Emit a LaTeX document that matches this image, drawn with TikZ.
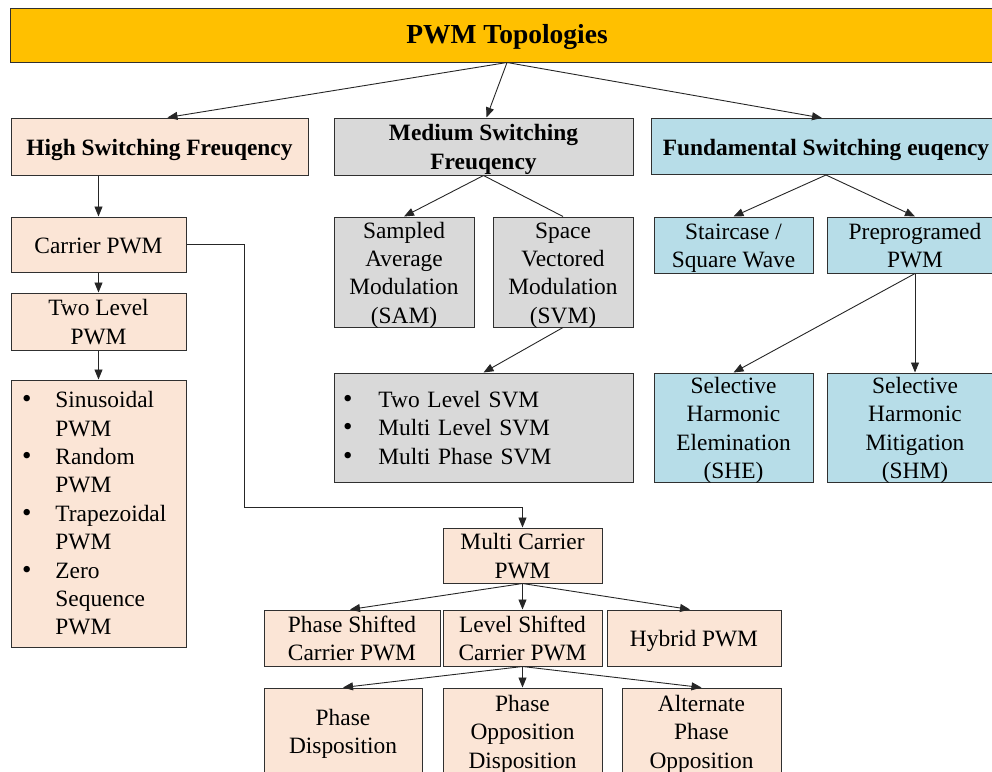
\documentclass[tikz,border=0pt]{standalone}
\usepackage{fontspec}
\setmainfont{Liberation Serif}
\usetikzlibrary{arrows.meta}
\definecolor{gold}{HTML}{FFC000}
\definecolor{peach}{HTML}{FBE5D6}
\definecolor{greybox}{HTML}{D9D9D9}
\definecolor{aqua}{HTML}{B7DDE8}
\definecolor{edge}{HTML}{303030}
\newcommand{\boxfont}{\fontsize{23.4}{28.4}\selectfont}
\newcommand{\itm}{\scalebox{1.15}{\textbullet}}
% uniform line boxes: first-line height and last-line depth
\newcommand{\topst}{\rule{0pt}{22.8pt}}
\newcommand{\botst}{\rule[-5.6pt]{0pt}{5.6pt}}
% lower some content without changing its extent
\newcommand{\lowered}[2]{\raisebox{-#1}[\height][\depth]{#2}}
\tikzset{
  % negative vertical inner sep lets the line boxes touch the frame
  % without enlarging it
  blk/.style={draw=edge, line width=1pt, inner xsep=0pt, inner ysep=-3pt,
    align=center, font=\boxfont, text=black,
    execute at begin node={\topst}, execute at end node={\botst}},
  hot/.style={blk, fill=peach},
  mid/.style={blk, fill=greybox},
  low/.style={blk, fill=aqua},
  link/.style={line width=0.9pt, draw=black!85},
  arr/.style={link, -{Triangle[length=10pt,width=8pt]}},
}
\begin{document}
\begin{tikzpicture}[x=1pt, y=-1pt]
\useasboundingbox (0,0) rectangle (992,771);
\clip (0,0) rectangle (992,771);

% root
\node[draw=edge, line width=1pt, inner sep=0pt, fill=gold,
  minimum width=994, minimum height=54,
  font=\fontsize{27.5}{32}\selectfont\bfseries] (root) at (507,35)
  {\lowered{1.5pt}{PWM Topologies}};

% second level
\node[hot, minimum width=297, minimum height=57, font=\boxfont\bfseries]
  (high) at (159.5,146.5) {High Switching Freuqency};
\node[mid, minimum width=299, minimum height=57, font=\boxfont\bfseries]
  (med) at (483.5,146.5) {\topst Medium Switching\\Freuqency\botst};
\node[low, minimum width=350, minimum height=56, font=\boxfont\bfseries]
  (fund) at (826,146.5) {Fundamental Switching euqency};

% high switching branch
\node[hot, minimum width=175, minimum height=55] (carrier) at (98.5,244.5) {Carrier PWM};
\node[hot, minimum width=175, minimum height=57] (twolvl) at (98.5,321.5)
  {\topst Two Level\\PWM\botst};
\node[hot, minimum width=175, minimum height=267, text width=175pt, align=left]
  (hlist) at (98.5,513.5) {\lowered{2.2pt}{%
  \begin{tabular}{@{\hspace{11pt}}l@{\hspace{24pt}}l@{}}
  \itm & Sinusoidal\\ & PWM\\
  \itm & Random\\ & PWM\\
  \itm & Trapezoidal\\ & PWM\\
  \itm & Zero\\ & Sequence\\ & PWM
  \end{tabular}}};

% medium switching branch
\node[mid, minimum width=140, minimum height=110] (sam) at (404,272)
  {\topst Sampled\\Average\\Modulation\\(SAM)\botst};
\node[mid, minimum width=140, minimum height=110] (svm) at (563,272)
  {\topst Space\\Vectored\\Modulation\\(SVM)\botst};
\node[mid, minimum width=299, minimum height=109, text width=299pt, align=left]
  (svmlist) at (483.5,427.5) {\lowered{2.5pt}{%
  \begin{tabular}{@{\hspace{9pt}}l@{\hspace{26pt}}l@{}}
  \itm & Two Level SVM\\
  \itm & Multi Level SVM\\
  \itm & Multi Phase SVM
  \end{tabular}}};

% fundamental switching branch
\node[low, minimum width=159, minimum height=56] (stair) at (733.5,245)
  {\topst Staircase /\\Square Wave\botst};
\node[low, minimum width=176, minimum height=56] (preprog) at (915,245)
  {\topst Preprogramed\\PWM\botst};
\node[low, minimum width=159, minimum height=109] (she) at (733.5,427.5)
  {\topst Selective\\Harmonic\\Elemination\\(SHE)\botst};
\node[low, minimum width=176, minimum height=109] (shm) at (915,427.5)
  {\topst Selective\\Harmonic\\Mitigation\\(SHM)\botst};

% multi carrier branch
\node[hot, minimum width=159, minimum height=55] (multi) at (522.5,555.5)
  {\topst Multi Carrier\\PWM\botst};
\node[hot, minimum width=176, minimum height=56] (psc) at (352,638)
  {\topst Phase Shifted\\Carrier PWM\botst};
\node[hot, minimum width=159, minimum height=56] (lsc) at (522.5,638)
  {\topst Level Shifted\\Carrier PWM\botst};
\node[hot, minimum width=174, minimum height=56] (hyb) at (694,638) {Hybrid PWM};
\node[hot, minimum width=158, minimum height=86] (pd) at (343,731)
  {\topst Phase\\Disposition\botst};
\node[hot, minimum width=159, minimum height=86] (pod) at (522.5,731)
  {\topst Phase\\Opposition\\Disposition\botst};
\node[hot, minimum width=159, minimum height=86] (apo) at (701.5,731)
  {\topst Alternate\\Phase\\Opposition\botst};

% connectors
\draw[arr] (root.south) -- ([xshift=8pt]high.north);
\draw[arr] (root.south) -- ([xshift=3pt]med.north);
\draw[arr] (root.south) -- ([xshift=-4pt]fund.north);

\draw[arr] (high.south -| carrier.north) -- (carrier.north);
\draw[arr] (carrier.south) -- (twolvl.north);
\draw[arr] (twolvl.south) -- (hlist.north);

\draw[arr] (med.south) -- (sam.north);
\draw[link] (med.south) -- (svm.north);
\draw[arr] (svm.south) -- (svmlist.north);

\draw[arr] (fund.south) -- (stair.north);
\draw[arr] (fund.south) -- (preprog.north);
\draw[arr] (preprog.south) -- (she.north);
\draw[arr] (preprog.south) -- (shm.north);

\coordinate (bend) at (244,507.5);
\draw[arr] (carrier.east) -| (bend) -| (multi.north);

\draw[arr] (multi.south) -- ([xshift=-2pt]psc.north);
\draw[arr] (multi.south) -- (lsc.north);
\draw[arr] (multi.south) -- ([xshift=-4pt]hyb.north);
\draw[arr] (lsc.south) -- (pd.north);
\draw[arr] (lsc.south) -- (pod.north);
\draw[arr] (lsc.south) -- (apo.north);
\end{tikzpicture}
\end{document}
